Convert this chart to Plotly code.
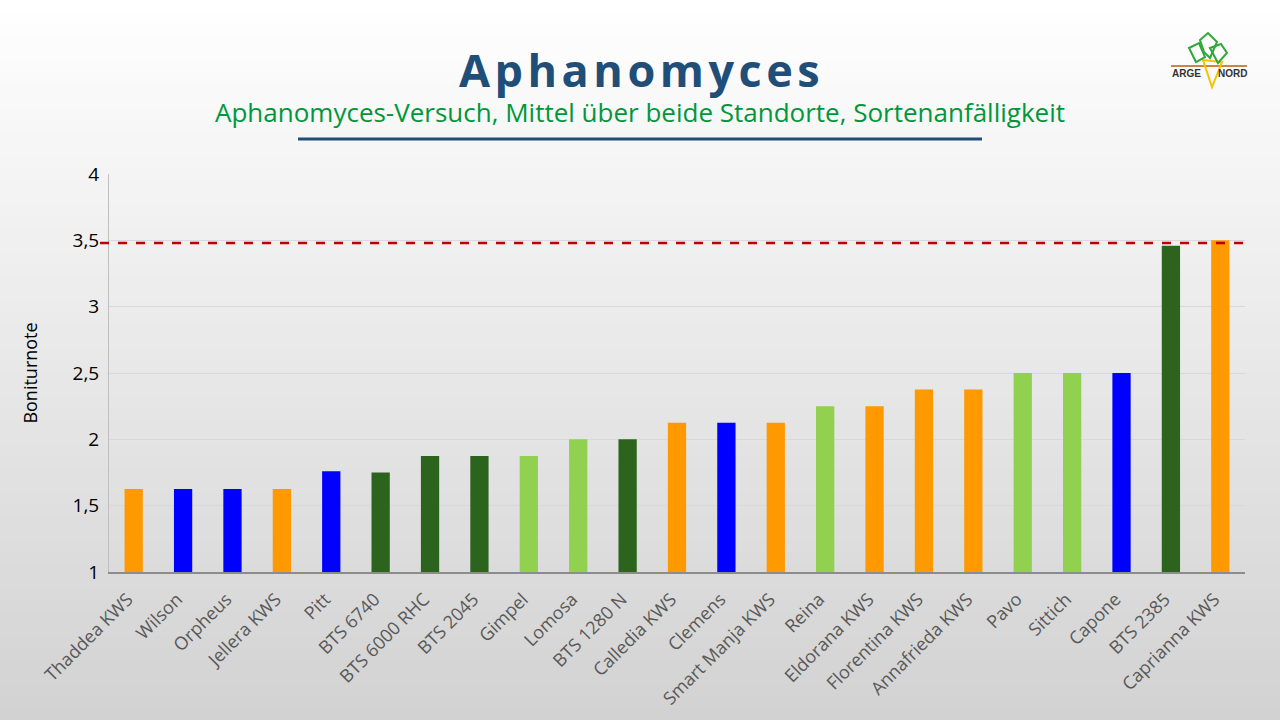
import plotly.graph_objects as go

# ── Data ──────────────────────────────────────────────────────────────────
sorten = [
    "Thaddea KWS", "Wilson", "Orpheus", "Jellera KWS", "Pitt", "BTS 6740",
    "BTS 6000 RHC", "BTS 2045", "Gimpel", "Lomosa", "BTS 1280 N",
    "Calledia KWS", "Clemens", "Smart Manja KWS", "Reina", "Eldorana KWS",
    "Florentina KWS", "Annafrieda KWS", "Pavo", "Sittich", "Capone",
    "BTS 2385", "Caprianna KWS",
]
boniturnote = [
    1.625, 1.625, 1.625, 1.625, 1.76, 1.75,
    1.875, 1.875, 1.875, 2.0, 2.0,
    2.125, 2.125, 2.125, 2.25, 2.25,
    2.375, 2.375, 2.5, 2.5, 2.5,
    3.46, 3.5,
]
gruppe = [
    "o", "b", "b", "o", "b", "g",
    "g", "g", "l", "l", "g",
    "o", "b", "o", "l", "o",
    "o", "o", "l", "l", "b",
    "g", "o",
]
schwelle = 3.48
y_ticks = [1, 1.5, 2, 2.5, 3, 3.5, 4]
y_tick_text = ["1", "1,5", "2", "2,5", "3", "3,5", "4"]

_COLORS = {
    "o": "#FF9900",  # orange
    "b": "#0000FF",  # blau
    "g": "#2D641D",  # dunkelgrün
    "l": "#92D050",  # hellgrün
}

# plot area in pixels (1280x720 page)
L, R, T, B = 109, 1245, 174, 572
W, H = 1280, 720


def px_x(x):
    return (x - L) / (R - L)


def px_y(y):
    return (B - y) / (B - T)


fig = go.Figure(go.Bar(
    x=sorten,
    y=boniturnote,
    marker=dict(color=[_COLORS[g] for g in gruppe], line_width=0),
    hoverinfo="x+y",
))

shapes = []
# background gradient: white at top -> light grey at bottom
n_bands = 60
for i in range(n_bands):
    y0 = H * i / n_bands
    y1 = H * (i + 1) / n_bands
    t = (i + 0.5) / n_bands
    v = int(round(255 - t * (255 - 210)))
    shapes.append(dict(
        type="rect", xref="paper", yref="paper", layer="below",
        x0=px_x(-2), x1=px_x(W + 2), y0=px_y(y1 + 0.5), y1=px_y(y0),
        fillcolor=f"rgb({v},{v},{v})", line_width=0,
    ))

# threshold line (dashed red)
shapes.append(dict(
    type="line", xref="paper", yref="y",
    x0=px_x(100), x1=px_x(1250), y0=schwelle, y1=schwelle,
    line=dict(color="#C00000", width=2.5, dash="dash"),
))
# title underline
shapes.append(dict(
    type="line", xref="paper", yref="paper",
    x0=px_x(298), x1=px_x(982), y0=px_y(139), y1=px_y(139),
    line=dict(color="#1F4E79", width=3),
))

# logo (rough sketch)
shapes.append(dict(
    type="line", xref="paper", yref="paper",
    x0=px_x(1171), x1=px_x(1247), y0=px_y(66), y1=px_y(66),
    line=dict(color="#C8864A", width=2),
))


def path(points, close=True):
    s = "M " + " L ".join(f"{px_x(x)},{px_y(y)}" for x, y in points)
    return s + (" Z" if close else "")


shapes.append(dict(
    type="path", xref="paper", yref="paper",
    path=path([(1203, 60), (1222, 62), (1212, 87)]),
    line=dict(color="#F5C400", width=2), fillcolor="rgba(0,0,0,0)",
))
for leaf in [
    [(1189, 48), (1199, 43), (1205, 57), (1196, 62)],
    [(1200, 40), (1208, 33), (1217, 42), (1210, 58), (1204, 52)],
    [(1210, 48), (1221, 44), (1227, 53), (1218, 63)],
]:
    shapes.append(dict(
        type="path", xref="paper", yref="paper", path=path(leaf),
        line=dict(color="#2EA836", width=2), fillcolor="rgba(0,0,0,0)",
    ))

hs = "\u200a"  # hair space for letter spacing of the title
annotations = [
    dict(
        text=hs.join("Aphanomyces"), x=px_x(639), y=px_y(70),
        xref="paper", yref="paper", showarrow=False,
        xanchor="center", yanchor="middle",
        font=dict(family="Open Sans", size=45, color="#1F4E79", weight="bold"),
    ),
    dict(
        text="Aphanomyces-Versuch, Mittel über beide Standorte, Sortenanfälligkeit",
        x=px_x(640), y=px_y(112), xref="paper", yref="paper", showarrow=False,
        xanchor="center", yanchor="middle",
        font=dict(family="Open Sans", size=26, color="#00973A"),
    ),
    dict(
        text="<b>ARGE</b>", x=px_x(1186), y=px_y(73), xref="paper", yref="paper",
        showarrow=False, xanchor="center", yanchor="middle",
        font=dict(family="Liberation Sans", size=10, color="#333333"),
    ),
    dict(
        text="<b>NORD</b>", x=px_x(1232), y=px_y(73), xref="paper", yref="paper",
        showarrow=False, xanchor="center", yanchor="middle",
        font=dict(family="Liberation Sans", size=10, color="#333333"),
    ),
]

fig.update_layout(
    width=W,
    height=H,
    margin=dict(l=L, r=W - R, t=T, b=H - B, autoexpand=False),
    paper_bgcolor="rgba(0,0,0,0)",
    plot_bgcolor="rgba(0,0,0,0)",
    bargap=0.63,
    showlegend=False,
    shapes=shapes,
    annotations=annotations,
    font=dict(family="Open Sans", color="#000000"),
    xaxis=dict(
        tickangle=-45,
        tickfont=dict(family="Open Sans", size=18, color="#595959"),
        ticklabelstandoff=8,
        ticklabelshift=-6,
        showline=True, linecolor="#8C8C8C", linewidth=1.5,
        showgrid=False, ticks="", ticklen=0,
    ),
    yaxis=dict(
        range=[1, 4],
        tickvals=y_ticks,
        ticktext=y_tick_text,
        tickfont=dict(family="Open Sans", size=19, color="#000000"),
        ticklabelstandoff=5,
        showgrid=True, gridcolor="#D9D9D9", gridwidth=1,
        showline=True, linecolor="#BFBFBF", linewidth=1,
        zeroline=False,
        title=dict(text="Boniturnote", standoff=30,
                   font=dict(family="Open Sans", size=18, color="#000000")),
    ),
)

# page body has a default 8px margin; drop it so the figure fills the window
fig.write_html(
    "out.html",
    config={"displayModeBar": False},
    post_script="document.body.style.margin='0';",
)
